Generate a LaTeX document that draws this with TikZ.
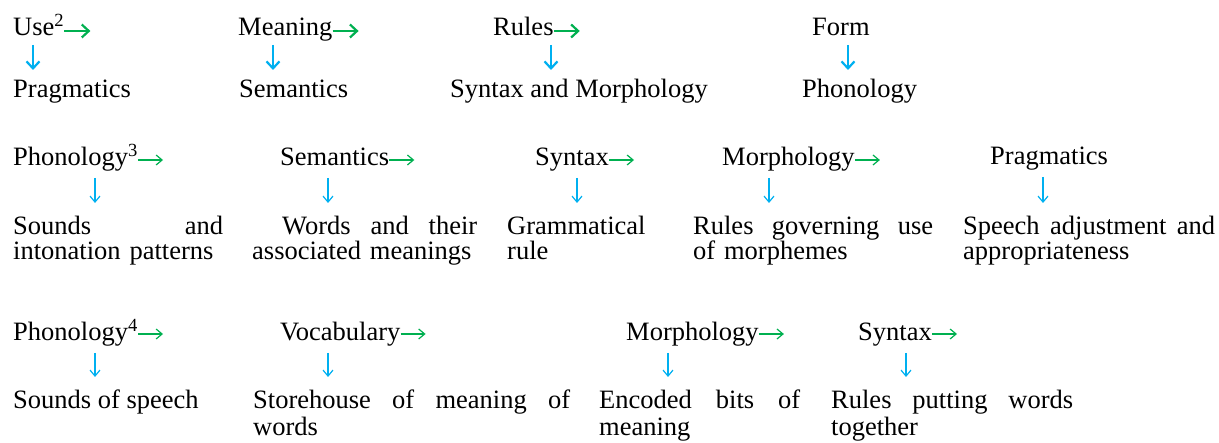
\documentclass[tikz,border=0pt]{standalone}
\usepackage{fontspec}
\setmainfont{Liberation Serif}
\usepackage{tikz}
\usetikzlibrary{arrows.meta,positioning,calc}
\definecolor{arrgreen}{HTML}{00B050}
\definecolor{arrblue}{HTML}{00B0F0}

\begin{document}
\begin{tikzpicture}[x=1pt, y=-1pt,
  every node/.style={font=\fontsize{26.5}{25}\selectfont, inner sep=0pt, anchor=base west, align=left},
  nxt/.style={draw=arrgreen, line width=1.2pt, -{Straight Barb[length=6pt,width=10pt]}},
  dwn/.style={draw=arrblue, line width=1.2pt, -{Straight Barb[length=6pt,width=10pt]}},
  heavy/.style={line width=2.2pt, -{Straight Barb[length=7pt,width=13pt]}}]
  \useasboundingbox (0,0) rectangle (1219,443);

  % first row: use, meaning, rules, form
  \node (use) at (13,36) {Use\textsuperscript{2}};
  \node (mean) at (238,36) {Meaning};
  \node (rules) at (493,36) {Rules};
  \node (form) at (812,36) {Form};
  \node (prag1) at (13,98) {Pragmatics};
  \node (sem1) at (239,98) {Semantics};
  \node (synmor) at (450,98) {Syntax and Morphology};
  \node (phon1) at (802,98) {Phonology};
  \draw[nxt, heavy] ([yshift=5pt]use.base east) -- ++(26,0) coordinate (useN);
  \draw[nxt, heavy] ([yshift=5pt]mean.base east) -- ++(26,0) coordinate (meanN);
  \draw[nxt, heavy] ([yshift=5pt]rules.base east) -- ++(26,0) coordinate (rulesN);
  \draw[dwn, heavy] ([xshift=20pt,yshift=-9pt]use.base west) -- ([xshift=20pt,yshift=28pt]use.base west |- prag1.base);
  \draw[dwn, heavy] ([xshift=35pt,yshift=-9pt]mean.base west) -- ([xshift=35pt,yshift=28pt]mean.base west |- sem1.base);
  \draw[dwn, heavy] ([xshift=58pt,yshift=-9pt]rules.base west) -- ([xshift=58pt,yshift=28pt]rules.base west |- synmor.base);
  \draw[dwn, heavy] ([xshift=36pt,yshift=-9pt]form.base west) -- ([xshift=36pt,yshift=28pt]form.base west |- phon1.base);

  % second row
  \node (phon2) at (13,166) {Phonology\textsuperscript{3}};
  \node (sem2) at (280,166) {Semantics};
  \node (syn2) at (535,166) {Syntax};
  \node (mor2) at (722,166) {Morphology};
  \node (prag2) at (990,165) {Pragmatics};
  \node[text width=210pt] (sounds) at (13,235) {Sounds\hfill and\\intonation patterns};
  \node[text width=225pt] (words) at (252,235) {\hspace*{30pt}Words\hfill and\hfill their\\associated meanings};
  \node[text width=150pt] (gram) at (507,235) {Grammatical\\rule};
  \node[text width=240pt] (rgov) at (693,235) {Rules\hfill governing\hfill use\\of morphemes};
  \node[text width=252pt] (speech) at (963,235) {Speech\hfill adjustment\hfill and\\appropriateness};
  \draw[nxt] ([yshift=6pt]phon2.base east) -- ++(25,0) coordinate (phon2N);
  \draw[nxt] ([yshift=6pt]sem2.base east) -- ++(25,0) coordinate (sem2N);
  \draw[nxt] ([yshift=6pt]syn2.base east) -- ++(25,0) coordinate (syn2N);
  \draw[nxt] ([yshift=6pt]mor2.base east) -- ++(25,0) coordinate (mor2N);
  \draw[dwn] ([xshift=82pt,yshift=-12pt]phon2.base west) -- ([xshift=82pt,yshift=32pt]phon2.base west |- sounds.base);
  \draw[dwn] ([xshift=48pt,yshift=-12pt]sem2.base west) -- ([xshift=48pt,yshift=32pt]sem2.base west |- words.base);
  \draw[dwn] ([xshift=42pt,yshift=-12pt]syn2.base west) -- ([xshift=42pt,yshift=32pt]syn2.base west |- gram.base);
  \draw[dwn] ([xshift=47pt,yshift=-12pt]mor2.base west) -- ([xshift=47pt,yshift=32pt]mor2.base west |- rgov.base);
  \draw[dwn] ([xshift=53pt,yshift=-12pt]prag2.base west) -- ([xshift=53pt,yshift=32pt]prag2.base west |- speech.base);

  % third row
  \node (phon3) at (13,341) {Phonology\textsuperscript{4}};
  \node (voc) at (280,341) {Vocabulary};
  \node (mor3) at (626,341) {Morphology};
  \node (syn3) at (858,341) {Syntax};
  \node (speechsnd) at (13,409) {Sounds of speech};
  \node[text width=317pt] (store) at (253,409) {Storehouse\hfill of\hfill meaning\hfill of\\[2pt]words};
  \node[text width=201pt] (enc) at (599,409) {Encoded\hfill bits\hfill of\\[2pt]meaning};
  \node[text width=242pt] (rput) at (831,409) {Rules\hfill putting\hfill words\\[2pt]together};
  \draw[nxt] ([yshift=7pt]phon3.base east) -- ++(25,0) coordinate (phon3N);
  \draw[nxt] ([yshift=7pt]voc.base east) -- ++(25,0) coordinate (vocN);
  \draw[nxt] ([yshift=7pt]mor3.base east) -- ++(25,0) coordinate (mor3N);
  \draw[nxt] ([yshift=7pt]syn3.base east) -- ++(25,0) coordinate (syn3N);
  \draw[dwn] ([xshift=82pt,yshift=-12pt]phon3.base west) -- ([xshift=82pt,yshift=32pt]phon3.base west |- speechsnd.base);
  \draw[dwn] ([xshift=48pt,yshift=-12pt]voc.base west) -- ([xshift=48pt,yshift=32pt]voc.base west |- store.base);
  \draw[dwn] ([xshift=42pt,yshift=-12pt]mor3.base west) -- ([xshift=42pt,yshift=32pt]mor3.base west |- enc.base);
  \draw[dwn] ([xshift=48pt,yshift=-12pt]syn3.base west) -- ([xshift=48pt,yshift=32pt]syn3.base west |- rput.base);
\end{tikzpicture}
\end{document}
